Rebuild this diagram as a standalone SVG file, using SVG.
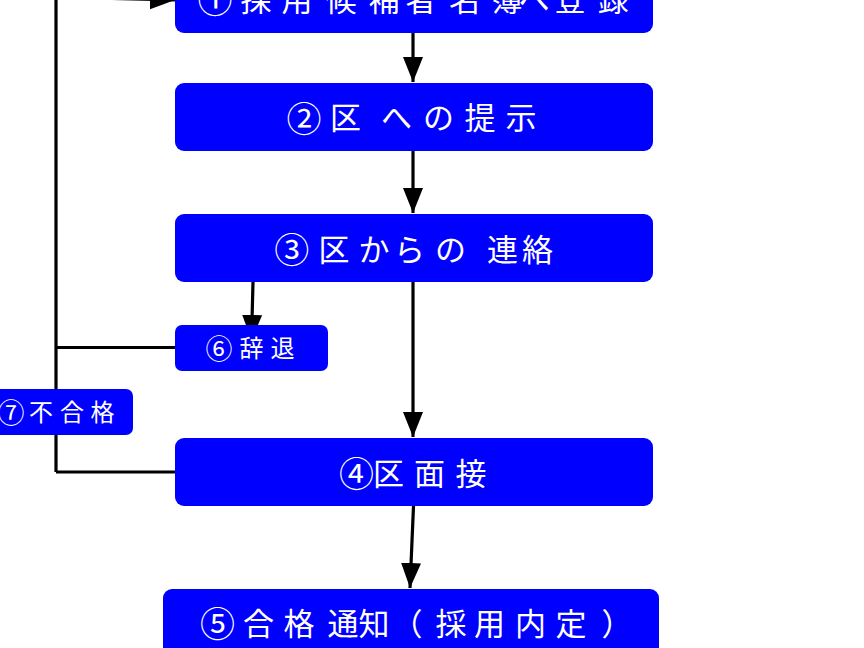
<svg xmlns="http://www.w3.org/2000/svg" width="864" height="648" viewBox="0 0 864 648">
<style>
.box{fill:#0000FF;}
.t{fill:#FFFFFF;font-family:"Noto Sans CJK JP","Noto Sans",sans-serif;text-anchor:middle;dominant-baseline:central;}
.big{font-size:31px;}
.small{font-size:24px;}
.cb{font-size:35px;}
.cs{font-size:27px;}
.c{fill:none;stroke:#000000;stroke-width:3.2;}
</style>
<defs>
<marker id="ah" markerUnits="userSpaceOnUse" markerWidth="26" markerHeight="22" refX="25" refY="10" orient="auto">
<path d="M0,0 L25,10 L0,20 Z" fill="#000000"/>
</marker>
</defs>
<rect width="864" height="648" fill="#FFFFFF"/>
<g id="connectors">
<path class="c" d="M56,472 L56,-3"/>
<path class="c" d="M56,347.5 L175,347.5"/>
<path class="c" d="M56,472 L175,472"/>
<line class="c" x1="56" y1="-3" x2="175" y2="0" marker-end="url(#ah)"/>
<line class="c" x1="413" y1="33" x2="413" y2="82" marker-end="url(#ah)"/>
<line class="c" x1="413" y1="151" x2="413" y2="213" marker-end="url(#ah)"/>
<line class="c" x1="253" y1="282" x2="251.5" y2="340" marker-end="url(#ah)"/>
<line class="c" x1="413" y1="282" x2="413" y2="437" marker-end="url(#ah)"/>
<line class="c" x1="413.5" y1="506" x2="410" y2="588" marker-end="url(#ah)"/>
</g>
<g id="node1">
<rect class="box" x="175" y="-35" width="478" height="68" rx="9"/>
<text class="t big" x="215 256 297 341 384 421 464.5 507 534 570 613" y="-3"><tspan class="cb">①</tspan>採用候補者名簿へ登録</text>
</g>
<g id="node2">
<rect class="box" x="175" y="83" width="478" height="68" rx="9"/>
<text class="t big" x="304 345.5 396.5 438.5 480 521" y="115.5"><tspan class="cb">②</tspan>区への提示</text>
</g>
<g id="node3">
<rect class="box" x="175" y="214" width="478" height="68" rx="9"/>
<text class="t big" x="291.7 334 374 409.5 450.5 502.5 537.5" y="247"><tspan class="cb">③</tspan>区からの連絡</text>
</g>
<g id="node6">
<rect class="box" x="175" y="325" width="153" height="46" rx="7"/>
<text class="t small" x="219 251.5 282.5" y="346.5"><tspan class="cs">⑥</tspan>辞退</text>
</g>
<g id="node7">
<rect class="box" x="-20" y="389" width="153" height="46" rx="7"/>
<text class="t small" x="11 41 72 102.5" y="410.5"><tspan class="cs">⑦</tspan>不合格</text>
</g>
<g id="node4">
<rect class="box" x="175" y="438" width="478" height="68" rx="9"/>
<text class="t big" x="356.5 388.5 429.5 471" y="471"><tspan class="cb">④</tspan>区面接</text>
</g>
<g id="node5">
<rect class="box" x="163" y="589" width="496" height="90" rx="9"/>
<text class="t big" x="217.5 258.5 299 343 374 407 451 489.5 530.5 571 617" y="621"><tspan class="cb">⑤</tspan>合格通知（採用内定）</text>
</g>
</svg>
